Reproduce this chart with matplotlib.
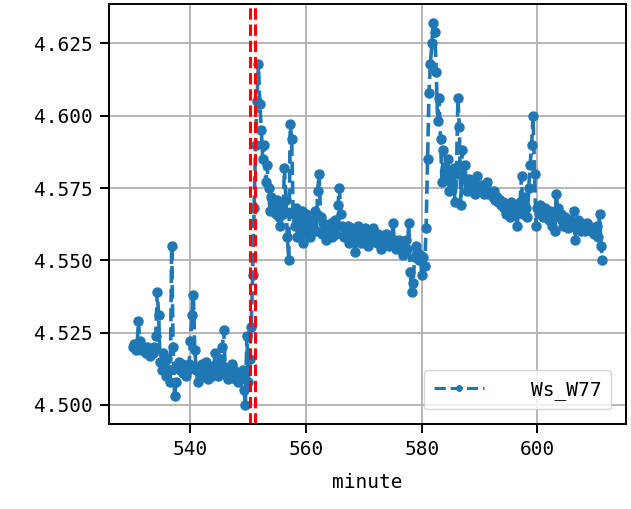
import numpy as np
import matplotlib
matplotlib.use("Agg")
import matplotlib.pyplot as plt

plt.rcParams['font.family'] = ['DejaVu Sans Mono', 'DejaVu Sans']

# Ws_W77 readings, one every 0.25 minute from 530.00 to 611.25
ws_w77 = [
    4.520, 4.521, 4.519, 4.520, 4.529, 4.522, 4.519, 4.520,  # 530
    4.519, 4.518, 4.520, 4.519, 4.517, 4.519, 4.518, 4.520,  # 532
    4.524, 4.539, 4.531, 4.515, 4.512, 4.518, 4.514, 4.510,  # 534
    4.516, 4.512, 4.508, 4.555, 4.520, 4.503, 4.508, 4.513,  # 536
    4.515, 4.512, 4.514, 4.511, 4.513, 4.510, 4.512, 4.514,  # 538
    4.522, 4.531, 4.538, 4.519, 4.512, 4.508, 4.513, 4.511,  # 540
    4.514, 4.510, 4.512, 4.515, 4.509, 4.511, 4.513, 4.510,  # 542
    4.512, 4.518, 4.514, 4.510, 4.512, 4.516, 4.520, 4.526,  # 544
    4.513, 4.510, 4.509, 4.511, 4.510, 4.514, 4.512, 4.509,  # 546
    4.510, 4.508, 4.510, 4.509, 4.512, 4.505, 4.500, 4.524,  # 548
    4.508, 4.516, 4.527, 4.545, 4.568, 4.590, 4.605, 4.618,  # 550
    4.604, 4.595, 4.585, 4.590, 4.577, 4.583, 4.575, 4.567,  # 552
    4.572, 4.570, 4.568, 4.566, 4.571, 4.565, 4.562, 4.568,  # 554
    4.566, 4.582, 4.571, 4.558, 4.550, 4.597, 4.592, 4.566,  # 556
    4.562, 4.568, 4.558, 4.565, 4.561, 4.567, 4.556, 4.563,  # 558
    4.566, 4.560, 4.563, 4.558, 4.564, 4.561, 4.567, 4.560,  # 560
    4.574, 4.580, 4.565, 4.559, 4.563, 4.561, 4.557, 4.562,  # 562
    4.560, 4.563, 4.558, 4.561, 4.564, 4.559, 4.569, 4.575,  # 564
    4.566, 4.562, 4.558, 4.561, 4.559, 4.562, 4.556, 4.560,  # 566
    4.561, 4.558, 4.553, 4.557, 4.562, 4.559, 4.556, 4.560,  # 568
    4.559, 4.561, 4.558, 4.555, 4.560, 4.558, 4.561, 4.557,  # 570
    4.558, 4.556, 4.559, 4.557, 4.554, 4.558, 4.556, 4.559,  # 572
    4.557, 4.555, 4.558, 4.556, 4.563, 4.557, 4.554, 4.556,  # 574
    4.557, 4.554, 4.556, 4.552, 4.555, 4.557, 4.554, 4.563,  # 576
    4.546, 4.539, 4.542, 4.551, 4.555, 4.553, 4.550, 4.552,  # 578
    4.545, 4.551, 4.548, 4.561, 4.585, 4.608, 4.618, 4.625,  # 580
    4.632, 4.629, 4.615, 4.598, 4.606, 4.592, 4.577, 4.588,  # 582
    4.582, 4.578, 4.585, 4.574, 4.579, 4.576, 4.582, 4.570,  # 584
    4.580, 4.606, 4.596, 4.569, 4.588, 4.578, 4.583, 4.574,  # 586
    4.576, 4.578, 4.574, 4.577, 4.575, 4.573, 4.579, 4.575,  # 588
    4.575, 4.574, 4.576, 4.573, 4.575, 4.577, 4.573, 4.574,  # 590
    4.573, 4.572, 4.574, 4.571, 4.572, 4.570, 4.571, 4.569,  # 592
    4.570, 4.568, 4.566, 4.569, 4.567, 4.565, 4.570, 4.567,  # 594
    4.569, 4.566, 4.562, 4.568, 4.570, 4.579, 4.566, 4.572,  # 596
    4.568, 4.565, 4.575, 4.583, 4.590, 4.600, 4.580, 4.562,  # 598
    4.568, 4.566, 4.569, 4.567, 4.565, 4.568, 4.566, 4.567,  # 600
    4.564, 4.567, 4.562, 4.566, 4.560, 4.573, 4.568, 4.565,  # 602
    4.566, 4.564, 4.562, 4.565, 4.563, 4.561, 4.564, 4.562,  # 604
    4.563, 4.567, 4.557, 4.561, 4.564, 4.562, 4.560, 4.563,  # 606
    4.562, 4.560, 4.563, 4.561, 4.562, 4.560, 4.561, 4.559,  # 608
    4.560, 4.562, 4.558, 4.566, 4.555, 4.550,                # 610
]
minute = np.linspace(530, 611.25, len(ws_w77))
event_minutes = [550.3, 551.15]

fig = plt.figure(figsize=(6.31, 5.09), dpi=100)
ax = fig.add_axes([0.173, 0.167, 0.819, 0.825])

ax.plot(minute, ws_w77, ls='--', marker='.', markersize=13, lw=2.6,
        color='#1f77b4', label='Ws_W77')
for m in event_minutes:
    ax.axvline(m, color='red', ls='--', lw=2.2)

ax.set_yticks([4.500, 4.525, 4.550, 4.575, 4.600, 4.625])
ax.set_xticks([540, 560, 580, 600])
ax.grid(True, color='#b0b0b0', lw=1.3)
ax.tick_params(labelsize=14, length=6.5, width=1.4, pad=5)
for s in ax.spines.values():
    s.set_linewidth(1.4)
ax.set_xlabel('minute', fontsize=14, labelpad=10)

leg = ax.legend(loc='lower right', fontsize=14, handlelength=2.6,
                handletextpad=2.4, borderpad=0.5, markerscale=0.6,
                borderaxespad=0.75)
leg.get_lines()[0].set_linewidth(2.2)

fig.savefig('out.png', dpi=100)
